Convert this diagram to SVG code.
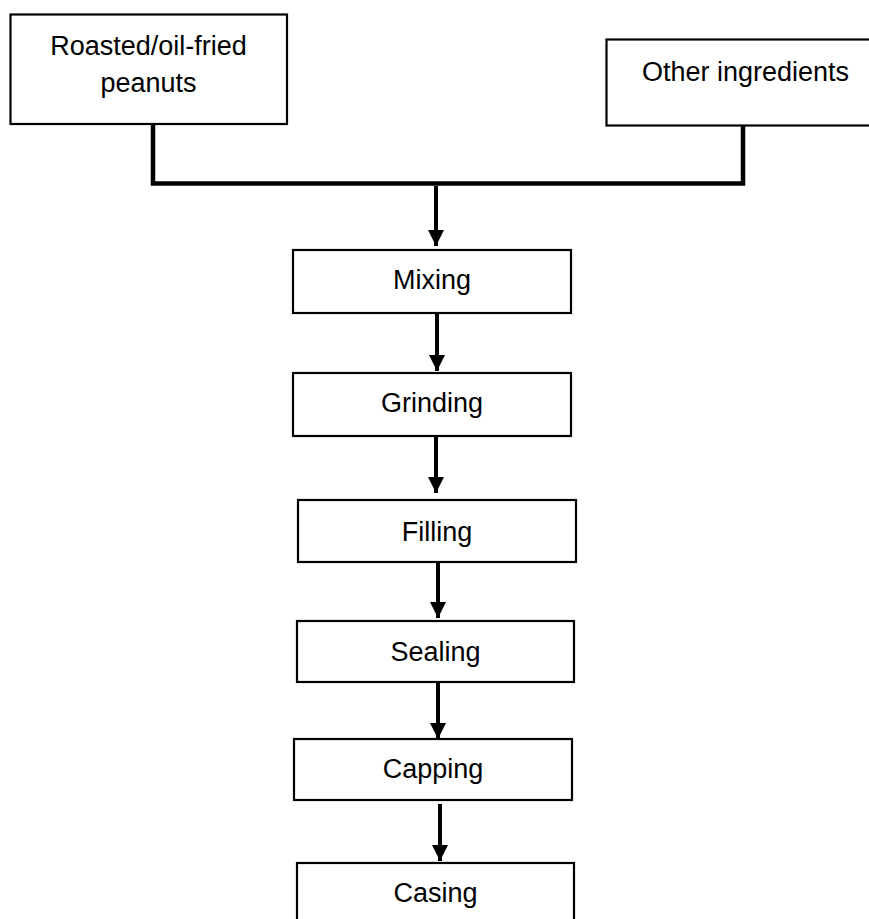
<svg xmlns="http://www.w3.org/2000/svg" width="869" height="919" viewBox="0 0 869 919">
<style>
.box{fill:#fff;stroke:#000;stroke-width:2.2}
.lbl{font-family:"Liberation Sans",Arial,sans-serif;font-size:27px;fill:#000;text-anchor:middle}
.con{fill:none;stroke:#000;stroke-width:4.5;stroke-linejoin:miter}
.arr{fill:none;stroke:#000;stroke-width:4;marker-end:url(#ah)}
</style>
<defs>
<marker id="ah" markerUnits="userSpaceOnUse" markerWidth="16" markerHeight="16" viewBox="0 0 16 16" refX="16" refY="8" orient="auto">
<path d="M0,0 L16,8 L0,16 Z" fill="#000"/>
</marker>
</defs>
<rect width="869" height="919" fill="#fff"/>
<g id="connectors">
<polyline class="con" points="153,124 153,183.5 743,183.5 743,126"/>
<line class="arr" x1="436" y1="186" x2="436" y2="246"/>
<line class="arr" x1="437" y1="313" x2="437" y2="371"/>
<line class="arr" x1="436" y1="436" x2="436" y2="493"/>
<line class="arr" x1="438" y1="562" x2="438" y2="618"/>
<line class="arr" x1="438" y1="682" x2="438" y2="739"/>
<line class="arr" x1="440" y1="804" x2="440" y2="861"/>
</g>
<g id="peanuts">
<rect class="box" x="10.5" y="14.5" width="276.5" height="109.5"/>
<text class="lbl" x="148.5" y="55">Roasted/oil-fried</text>
<text class="lbl" x="148.5" y="92">peanuts</text>
</g>
<g id="other">
<rect class="box" x="606.5" y="39.5" width="280" height="86"/>
<text class="lbl" x="745.5" y="81">Other ingredients</text>
</g>
<g id="mixing">
<rect class="box" x="293" y="250" width="278" height="63"/>
<text class="lbl" x="432" y="289">Mixing</text>
</g>
<g id="grinding">
<rect class="box" x="293" y="373" width="278" height="63"/>
<text class="lbl" x="432" y="412">Grinding</text>
</g>
<g id="filling">
<rect class="box" x="298" y="500" width="278" height="62"/>
<text class="lbl" x="437" y="541">Filling</text>
</g>
<g id="sealing">
<rect class="box" x="297" y="621" width="277" height="61"/>
<text class="lbl" x="435.5" y="661">Sealing</text>
</g>
<g id="capping">
<rect class="box" x="294" y="739" width="278" height="61"/>
<text class="lbl" x="433" y="778">Capping</text>
</g>
<g id="casing">
<rect class="box" x="297" y="863" width="277" height="70"/>
<text class="lbl" x="435.5" y="902">Casing</text>
</g>
</svg>
